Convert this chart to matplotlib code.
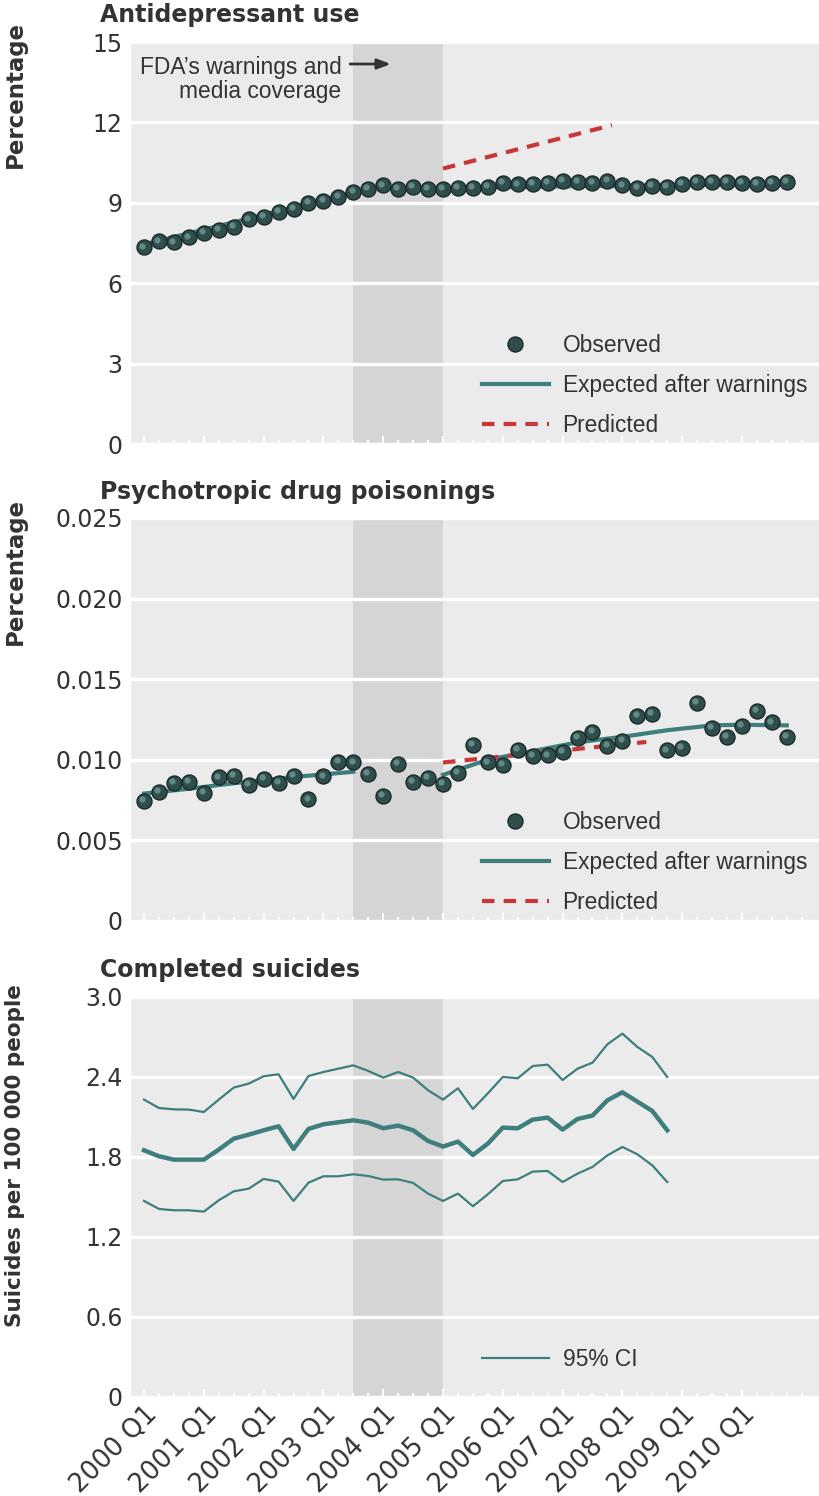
import numpy as np
import matplotlib.pyplot as plt
from matplotlib.transforms import offset_copy

plt.rcParams['font.family'] = ['DejaVu Sans']

# quarters 2000 Q1 .. 2010 Q4 (index 0..43)
quarters = np.arange(44)
year_ticks = np.arange(0, 44, 4)
year_labels = [f"{y} Q1" for y in range(2000, 2011)]

# antidepressant use (%)
antidep_obs = [7.34, 7.56, 7.52, 7.71, 7.88, 7.98, 8.10, 8.38, 8.48, 8.66,
               8.76, 8.99, 9.06, 9.21, 9.41, 9.53, 9.65, 9.51, 9.60, 9.53,
               9.53, 9.56, 9.56, 9.59, 9.75, 9.69, 9.71, 9.73, 9.81, 9.79,
               9.75, 9.81, 9.65, 9.56, 9.63, 9.59, 9.71, 9.78, 9.79, 9.79,
               9.73, 9.71, 9.75, 9.78]
antidep_exp_pre_x = [0, 14]
antidep_exp_pre = [7.45, 9.38]
antidep_exp_post_x = [20, 30, 43]
antidep_exp_post = [9.55, 9.63, 9.70]
antidep_pred_x = [20, 31.3]
antidep_pred = [10.28, 11.9]

# psychotropic drug poisonings (%)
poison_obs = [0.00746, 0.00798, 0.00854, 0.00863, 0.00794, 0.00890, 0.00900, 0.00844,
              0.00883, 0.00858, 0.00902, 0.00754, 0.00896, 0.00988, 0.00983, 0.00910,
              0.00777, 0.00973, 0.00863, 0.00885, 0.00848, 0.00919, 0.01094, 0.00983,
              0.00969, 0.01060, 0.01025, 0.01027, 0.01048, 0.01135, 0.01173, 0.01085,
              0.01115, 0.01271, 0.01285, 0.01058, 0.01073, 0.01354, 0.01198, 0.01142,
              0.01208, 0.01302, 0.01231, 0.01142]
poison_exp_pre_x = [0, 3, 6, 10, 14]
poison_exp_pre = [0.0079, 0.0082, 0.00854, 0.00893, 0.00925]
poison_exp_post_x = [20, 21, 23, 25, 29, 32, 35, 38, 40, 43]
poison_exp_post = [0.00906, 0.00938, 0.0100, 0.01035, 0.01108, 0.01142, 0.01183,
                   0.01213, 0.01217, 0.01213]
poison_pred_x = [20, 33.6]
poison_pred = [0.00983, 0.0111]

# completed suicides per 100 000
suic_mid = [1.85, 1.805, 1.78, 1.78, 1.78, 1.855, 1.937, 1.967, 2.0, 2.03,
            1.86, 2.01, 2.045, 2.06, 2.075, 2.057, 2.015, 2.035, 2.0, 1.92,
            1.878, 1.915, 1.815, 1.90, 2.02, 2.015, 2.08, 2.095, 2.005, 2.085,
            2.11, 2.225, 2.285, 2.215, 2.145, 2.0]
suic_hi = [2.23, 2.167, 2.157, 2.155, 2.137, 2.23, 2.32, 2.35, 2.405, 2.42,
           2.235, 2.407, 2.437, 2.462, 2.487, 2.445, 2.395, 2.437, 2.395, 2.3,
           2.23, 2.315, 2.16, 2.277, 2.4, 2.39, 2.482, 2.492, 2.377, 2.462,
           2.507, 2.645, 2.725, 2.625, 2.55, 2.4]
suic_lo = [1.47, 1.41, 1.40, 1.40, 1.39, 1.475, 1.542, 1.562, 1.635, 1.615,
           1.47, 1.607, 1.655, 1.655, 1.67, 1.657, 1.63, 1.632, 1.605, 1.525,
           1.47, 1.525, 1.43, 1.52, 1.62, 1.632, 1.69, 1.695, 1.612, 1.675,
           1.725, 1.812, 1.875, 1.82, 1.737, 1.612]

TEAL = '#3e7f7d'
RED = '#c8363a'
DOT = '#2f4e4b'
TXT = '#333333'
FS = 17
NARROW = ['Liberation Sans', 'DejaVu Sans']
FS_N = 16.4

fig = plt.figure(figsize=(8.2, 14.96), dpi=100)
ax1 = fig.add_axes([0.1598, 0.7032, 0.8402, 0.2687])
ax2 = fig.add_axes([0.1598, 0.3844, 0.8402, 0.2694])
ax3 = fig.add_axes([0.1598, 0.0662, 0.8402, 0.2674])


def style(ax, yticks, ylabels, show_x):
    ax.set_facecolor('#ebebeb')
    for s in ax.spines.values():
        s.set_visible(False)
    ax.axvspan(14, 20, color='#d5d5d5', zorder=0, lw=0)
    ax.set_xlim(-0.87, 45.22)
    ax.set_ylim(yticks[0], yticks[-1])
    ax.set_yticks(yticks)
    ax.set_yticklabels(ylabels)
    ax.grid(axis='y', color='white', lw=2.4, zorder=1)
    ax.set_axisbelow(True)
    ax.set_xticks(year_ticks)
    ax.set_xticks(np.arange(0, 45), minor=True)
    ax.tick_params(axis='y', length=0, labelsize=FS, labelcolor=TXT, pad=6)
    ax.tick_params(axis='x', which='major', direction='in', length=6, color='white', width=1.5)
    ax.tick_params(axis='x', which='minor', direction='in', length=3, color='white', width=1.5)
    if show_x:
        ax.set_xticklabels(year_labels, rotation=45, ha='right', rotation_mode='anchor',
                           fontsize=18.5, color=TXT)
        ax.tick_params(axis='x', which='major', pad=3)
    else:
        ax.set_xticklabels([])


def spheres(ax, y, label=None):
    ax.plot(quarters, y, 'o', ms=10.8, color=DOT, mec='#1a2a29', mew=1, zorder=3,
            label=label)
    hl = offset_copy(ax.transData, fig=fig, x=-1.3, y=1.3, units='points')
    ax.plot(quarters, y, 'o', ms=4.5, color='#6e9a96', mew=0, alpha=0.8, zorder=4,
            transform=hl)


style(ax1, [0, 3, 6, 9, 12, 15], ['0', '3', '6', '9', '12', '15'], False)
style(ax2, [0, 0.005, 0.010, 0.015, 0.020, 0.025],
      ['0', '0.005', '0.010', '0.015', '0.020', '0.025'], False)
style(ax3, [0, 0.6, 1.2, 1.8, 2.4, 3.0], ['0', '0.6', '1.2', '1.8', '2.4', '3.0'], True)

# top panel
ax1.plot(antidep_exp_pre_x, antidep_exp_pre, color=TEAL, lw=3, zorder=2)
ax1.plot(antidep_exp_post_x, antidep_exp_post, color=TEAL, lw=3, zorder=2,
         label='Expected after warnings')
ax1.plot(antidep_pred_x, antidep_pred, color=RED, lw=3, ls=(0, (3, 2.2)), zorder=2,
         label='Predicted')
spheres(ax1, antidep_obs, 'Observed')
ax1.annotate('', xy=(16.7, 14.18), xytext=(13.6, 14.18),
             arrowprops=dict(arrowstyle='-|>,head_length=0.8,head_width=0.3', color=TXT, lw=2))
ax1.text(13.2, 13.6, 'FDA\u2019s warnings and\nmedia coverage', ha='right', va='center',
         multialignment='right', fontsize=FS_N, family=NARROW, color=TXT, linespacing=1.1)

# middle panel
ax2.plot(poison_exp_pre_x, poison_exp_pre, color=TEAL, lw=3, zorder=2)
ax2.plot(poison_exp_post_x, poison_exp_post, color=TEAL, lw=3, zorder=2,
         label='Expected after warnings')
ax2.plot(poison_pred_x, poison_pred, color=RED, lw=3, ls=(0, (3, 2.2)), zorder=2,
         label='Predicted')
spheres(ax2, poison_obs, 'Observed')

# bottom panel
xs = quarters[:len(suic_mid)]
ax3.plot(xs, suic_hi, color=TEAL, lw=1.6, zorder=2, label='95% CI')
ax3.plot(xs, suic_lo, color=TEAL, lw=1.6, zorder=2)
ax3.plot(xs, suic_mid, color=TEAL, lw=3.2, zorder=2)

leg_font = {'family': NARROW, 'size': FS_N}
for ax in (ax1, ax2):
    h, l = ax.get_legend_handles_labels()
    order = [l.index('Observed'), l.index('Expected after warnings'), l.index('Predicted')]
    ax.legend([h[i] for i in order], [l[i] for i in order], loc='lower left',
              bbox_to_anchor=(0.509, 0.018), frameon=False, prop=leg_font, handlelength=2.95,
              handletextpad=0.6, labelspacing=0.75, borderpad=0, borderaxespad=0,
              labelcolor=TXT)
ax3.legend(loc='lower left', bbox_to_anchor=(0.509, 0.065), frameon=False, prop=leg_font,
           handlelength=2.95, handletextpad=0.6, borderpad=0, borderaxespad=0,
           labelcolor=TXT)

# panel titles and y labels
fig.text(100 / 820, 1 - 15 / 1496, 'Antidepressant use', fontsize=FS, fontweight='bold',
         color=TXT, va='center', ha='left')
fig.text(100 / 820, 1 - 492 / 1496, 'Psychotropic drug poisonings', fontsize=FS,
         fontweight='bold', color=TXT, va='center', ha='left')
fig.text(100 / 820, 1 - 970 / 1496, 'Completed suicides', fontsize=FS, fontweight='bold',
         color=TXT, va='center', ha='left')
fig.text(15 / 820, 1 - 21 / 1496, 'Percentage', rotation=90, fontsize=16.5, fontweight='bold',
         color=TXT, va='top', ha='center')
fig.text(15 / 820, 1 - 498 / 1496, 'Percentage', rotation=90, fontsize=16.5, fontweight='bold',
         color=TXT, va='top', ha='center')
fig.text(15 / 820, 1 - 984 / 1496, 'Suicides per 100 000 people', rotation=90, fontsize=15.5,
         fontweight='bold', color=TXT, va='top', ha='center')

fig.savefig('out.png', dpi=100, facecolor='white')
